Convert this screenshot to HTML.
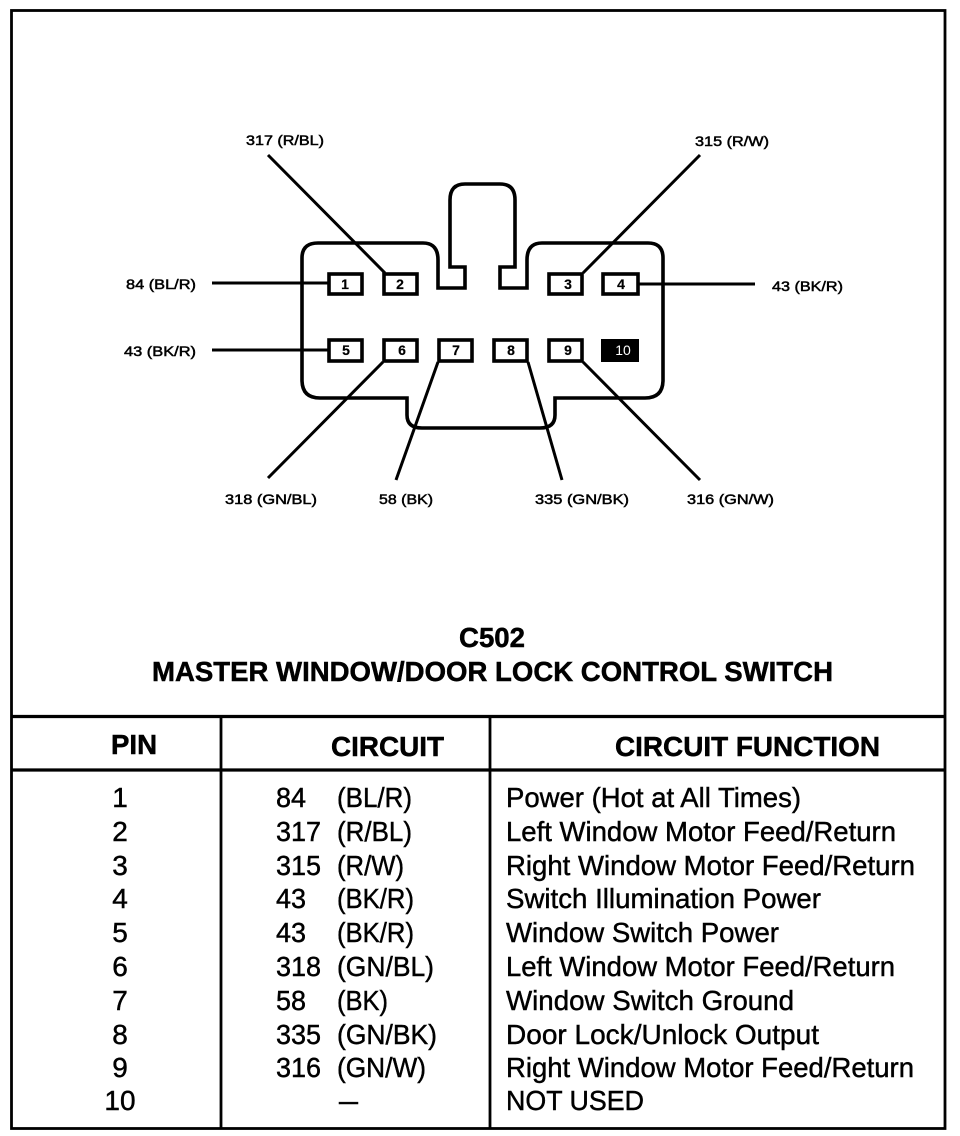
<!DOCTYPE html>
<html><head><meta charset="utf-8"><style>
html,body{margin:0;padding:0;background:#fff;width:960px;height:1136px;overflow:hidden}
svg{display:block}
text{font-family:"Liberation Sans",sans-serif;fill:#000;stroke:#000}
.l{font-size:14px;stroke-width:.5px}
.p{font-size:14px;font-weight:bold;stroke-width:.2px;text-anchor:middle}
.h{font-size:28px;font-weight:bold;stroke-width:.5px}
.t{font-size:28px;stroke-width:.45px}
</style></head><body>
<svg width="960" height="1136" viewBox="0 0 960 1136" xmlns="http://www.w3.org/2000/svg">
<g fill="none" stroke="#000">
<rect x="11.5" y="10.5" width="933.5" height="1118" stroke-width="2.8"/>
<path d="M12 716.5H945M12 770H945" stroke-width="3.2"/>
<path d="M221 716V1128M490 716V1128" stroke-width="2.8"/>
<path d="M318 243H423Q438 243 438 260V288H465V267H450V200Q450 184 465 184H500Q515 184 515 200V267H500V288H527V260Q527 243 542 243H648Q663 243 663 258V380Q663 398 645 398H555V415Q555 428 540 428H422Q407 428 407 415V398H320Q302 398 302 380V258Q302 243 318 243Z" stroke-width="3.6"/>
<path d="M268 155L385 273M700 155L583 273M212 283H328M639 284H755M212 350H328M383 362L268 478M438 362L396 480M528 362L562 480M583 362L700 480" stroke-width="3"/>
<g stroke-width="3.6" fill="#fff">
<rect x="329" y="274" width="33" height="20"/>
<rect x="384" y="274" width="33" height="20"/>
<rect x="549" y="274" width="33" height="20"/>
<rect x="603" y="274" width="35" height="20"/>
<rect x="329" y="340" width="33" height="21"/>
<rect x="384" y="340" width="33" height="21"/>
<rect x="439" y="340" width="33" height="21"/>
<rect x="494" y="340" width="33" height="21"/>
<rect x="549" y="340" width="33" height="21"/>
</g>
<rect x="601" y="339" width="38" height="23" fill="#000" stroke="none"/>
</g>
<text class="p" x="345" y="289">1</text><text class="p" x="400" y="289">2</text><text class="p" x="568" y="289">3</text><text class="p" x="621" y="289">4</text>
<text class="p" x="346" y="355">5</text><text class="p" x="402" y="355">6</text><text class="p" x="456" y="355">7</text><text class="p" x="511" y="355">8</text><text class="p" x="568" y="355">9</text>
<text x="623" y="355" font-size="14" text-anchor="middle" style="fill:#fff;stroke:none">10</text>
<text class="l" x="246" y="145" textLength="78" lengthAdjust="spacingAndGlyphs">317 (R/BL)</text>
<text class="l" x="695" y="146" textLength="74" lengthAdjust="spacingAndGlyphs">315 (R/W)</text>
<text class="l" x="126" y="289" textLength="70" lengthAdjust="spacingAndGlyphs">84 (BL/R)</text>
<text class="l" x="772" y="291" textLength="71" lengthAdjust="spacingAndGlyphs">43 (BK/R)</text>
<text class="l" x="124" y="356" textLength="72" lengthAdjust="spacingAndGlyphs">43 (BK/R)</text>
<text class="l" x="225" y="504" textLength="92" lengthAdjust="spacingAndGlyphs">318 (GN/BL)</text>
<text class="l" x="379" y="504" textLength="54" lengthAdjust="spacingAndGlyphs">58 (BK)</text>
<text class="l" x="535" y="504" textLength="94" lengthAdjust="spacingAndGlyphs">335 (GN/BK)</text>
<text class="l" x="687" y="504" textLength="87" lengthAdjust="spacingAndGlyphs">316 (GN/W)</text>
<text class="h" x="459" y="647" textLength="66" lengthAdjust="spacingAndGlyphs">C502</text>
<text class="h" x="152" y="681" textLength="681" lengthAdjust="spacingAndGlyphs">MASTER WINDOW/DOOR LOCK CONTROL SWITCH</text>
<text class="h" x="111" y="754" textLength="46" lengthAdjust="spacingAndGlyphs">PIN</text>
<text class="h" x="331" y="756" textLength="113" lengthAdjust="spacingAndGlyphs">CIRCUIT</text>
<text class="h" x="615" y="756" textLength="265" lengthAdjust="spacingAndGlyphs">CIRCUIT FUNCTION</text>
<g transform="translate(0,-1)">
<text class="t" x="120" y="808" text-anchor="middle">1</text><text class="t" x="276" y="808" textLength="30" lengthAdjust="spacingAndGlyphs">84</text><text class="t" x="337" y="808" textLength="75" lengthAdjust="spacingAndGlyphs">(BL/R)</text><text class="t" x="506" y="808" textLength="295" lengthAdjust="spacingAndGlyphs">Power (Hot at All Times)</text>
<text class="t" x="120" y="842" text-anchor="middle">2</text><text class="t" x="276" y="842" textLength="45" lengthAdjust="spacingAndGlyphs">317</text><text class="t" x="337" y="842" textLength="75" lengthAdjust="spacingAndGlyphs">(R/BL)</text><text class="t" x="506" y="842" textLength="390" lengthAdjust="spacingAndGlyphs">Left Window Motor Feed/Return</text>
<text class="t" x="120" y="876" text-anchor="middle">3</text><text class="t" x="276" y="876" textLength="45" lengthAdjust="spacingAndGlyphs">315</text><text class="t" x="337" y="876" textLength="67" lengthAdjust="spacingAndGlyphs">(R/W)</text><text class="t" x="506" y="876" textLength="409" lengthAdjust="spacingAndGlyphs">Right Window Motor Feed/Return</text>
<text class="t" x="120" y="909" text-anchor="middle">4</text><text class="t" x="276" y="909" textLength="30" lengthAdjust="spacingAndGlyphs">43</text><text class="t" x="337" y="909" textLength="77" lengthAdjust="spacingAndGlyphs">(BK/R)</text><text class="t" x="506" y="909" textLength="315" lengthAdjust="spacingAndGlyphs">Switch Illumination Power</text>
<text class="t" x="120" y="943" text-anchor="middle">5</text><text class="t" x="276" y="943" textLength="30" lengthAdjust="spacingAndGlyphs">43</text><text class="t" x="337" y="943" textLength="77" lengthAdjust="spacingAndGlyphs">(BK/R)</text><text class="t" x="506" y="943" textLength="273" lengthAdjust="spacingAndGlyphs">Window Switch Power</text>
<text class="t" x="120" y="977" text-anchor="middle">6</text><text class="t" x="276" y="977" textLength="45" lengthAdjust="spacingAndGlyphs">318</text><text class="t" x="337" y="977" textLength="97" lengthAdjust="spacingAndGlyphs">(GN/BL)</text><text class="t" x="506" y="977" textLength="389" lengthAdjust="spacingAndGlyphs">Left Window Motor Feed/Return</text>
<text class="t" x="120" y="1011" text-anchor="middle">7</text><text class="t" x="276" y="1011" textLength="30" lengthAdjust="spacingAndGlyphs">58</text><text class="t" x="337" y="1011" textLength="51" lengthAdjust="spacingAndGlyphs">(BK)</text><text class="t" x="506" y="1011" textLength="288" lengthAdjust="spacingAndGlyphs">Window Switch Ground</text>
<text class="t" x="120" y="1045" text-anchor="middle">8</text><text class="t" x="276" y="1045" textLength="45" lengthAdjust="spacingAndGlyphs">335</text><text class="t" x="337" y="1045" textLength="100" lengthAdjust="spacingAndGlyphs">(GN/BK)</text><text class="t" x="506" y="1045" textLength="313" lengthAdjust="spacingAndGlyphs">Door Lock/Unlock Output</text>
<text class="t" x="120" y="1078" text-anchor="middle">9</text><text class="t" x="276" y="1078" textLength="45" lengthAdjust="spacingAndGlyphs">316</text><text class="t" x="337" y="1078" textLength="89" lengthAdjust="spacingAndGlyphs">(GN/W)</text><text class="t" x="506" y="1078" textLength="408" lengthAdjust="spacingAndGlyphs">Right Window Motor Feed/Return</text>
<text class="t" x="120" y="1111" text-anchor="middle">10</text><text class="t" x="339" y="1111" textLength="19" lengthAdjust="spacingAndGlyphs">–</text><text class="t" x="506" y="1111" textLength="138" lengthAdjust="spacingAndGlyphs">NOT USED</text>
</g>
</svg>
</body></html>
